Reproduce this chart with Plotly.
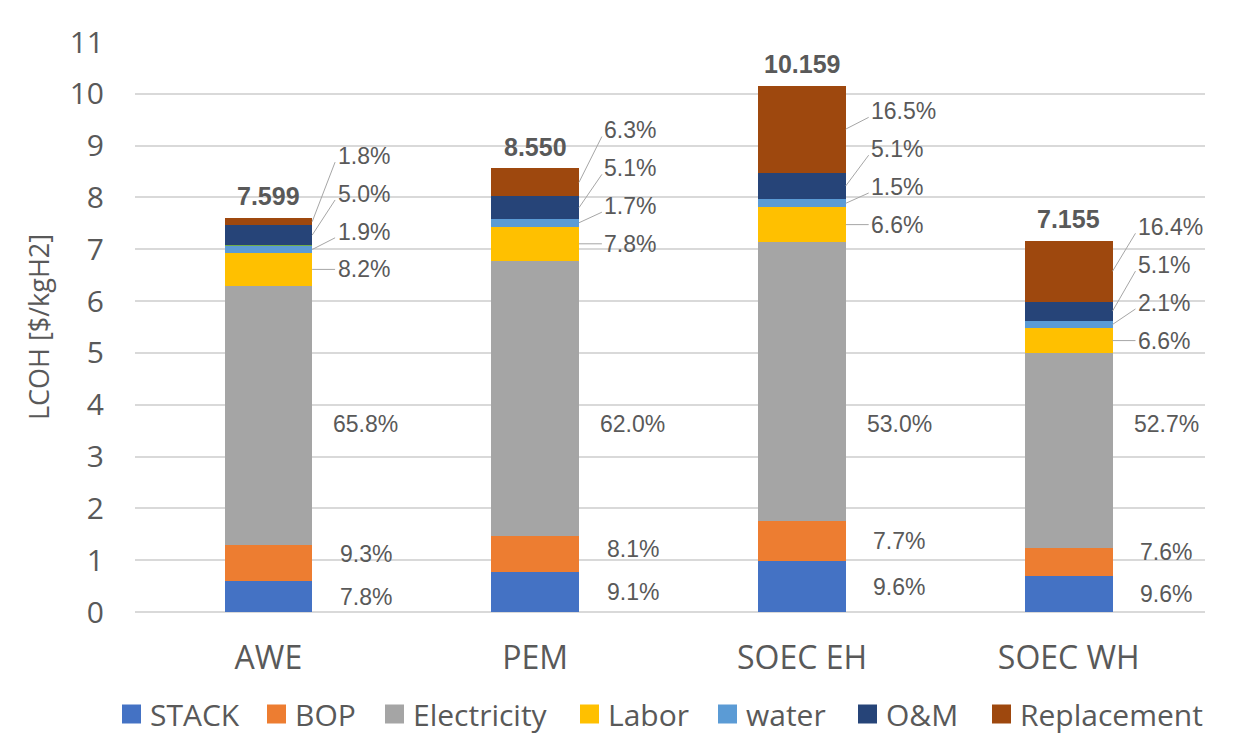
import plotly.graph_objects as go

categories = ["AWE", "PEM", "SOEC EH", "SOEC WH"]
totals = [7.599, 8.550, 10.159, 7.155]
total_labels = ["7.599", "8.550", "10.159", "7.155"]

series_names = ["STACK", "BOP", "Electricity", "Labor", "water", "other", "O&M", "Replacement"]
legend_names = ["STACK", "BOP", "Electricity", "Labor", "water", "O&M", "Replacement"]
stack = [0.593, 0.778, 0.975, 0.687]
bop = [0.707, 0.693, 0.782, 0.544]
electricity = [5.000, 5.301, 5.384, 3.771]
labor = [0.623, 0.667, 0.670, 0.472]
water = [0.144, 0.145, 0.152, 0.150]
other = [0.015, 0.0, 0.0, 0.0]
om = [0.380, 0.436, 0.518, 0.365]
replacement = [0.137, 0.539, 1.676, 1.173]

pct_stack = ["7.8%", "9.1%", "9.6%", "9.6%"]
pct_bop = ["9.3%", "8.1%", "7.7%", "7.6%"]
pct_electricity = ["65.8%", "62.0%", "53.0%", "52.7%"]
pct_labor = ["8.2%", "7.8%", "6.6%", "6.6%"]
pct_water = ["1.9%", "1.7%", "1.5%", "2.1%"]
pct_om = ["5.0%", "5.1%", "5.1%", "5.1%"]
pct_replacement = ["1.8%", "6.3%", "16.5%", "16.4%"]

colors = {
    "STACK": "#4472C4", "BOP": "#ED7D31", "Electricity": "#A5A5A5",
    "Labor": "#FFC000", "water": "#5B9BD5", "other": "#70AD47",
    "O&M": "#264478", "Replacement": "#9E480E",
}
values = {
    "STACK": stack, "BOP": bop, "Electricity": electricity, "Labor": labor,
    "water": water, "other": other, "O&M": om, "Replacement": replacement,
}

TXT = "#595959"
AX_FONT = "Open Sans, Noto Sans, sans-serif"
LBL_FONT = "Liberation Sans, Arial, sans-serif"

# page layout (the page body has an 8px margin)
W, H = 1241, 738
ML, MR, MT, MB = 127, 44, 34, 134
PW, PH = W - ML - MR, H - MT - MB

fig = go.Figure()
for name in series_names:
    fig.add_trace(go.Bar(
        name=name, x=categories, y=values[name],
        marker=dict(color=colors[name], line=dict(width=0)),
        showlegend=False, hoverinfo="skip",
    ))

HALF_BAR = 0.164
annotations = []
shapes = []
for i, cat in enumerate(categories):
    bounds = []
    base = 0.0
    for name in series_names:
        v = values[name][i]
        bounds.append((base, base + v))
        base += v
    b = dict(zip(series_names, bounds))
    mid = {k: (lo + hi) / 2 for k, (lo, hi) in b.items()}

    y_stack = mid["STACK"]
    y_bop = max(mid["BOP"], y_stack + 0.82)
    y_elec = 3.63
    for y, t in [(y_stack, pct_stack[i]), (y_bop, pct_bop[i]), (y_elec, pct_electricity[i])]:
        annotations.append(dict(x=i + 0.365, y=y, xref="x", yref="y", text=t, showarrow=False,
                                xanchor="center", yanchor="middle",
                                font=dict(family=LBL_FONT, size=23, color=TXT)))

    prev = None
    for name, t in [("Labor", pct_labor[i]), ("water", pct_water[i]),
                    ("O&M", pct_om[i]), ("Replacement", pct_replacement[i])]:
        y = mid[name] if prev is None else max(mid[name], prev + 0.73)
        prev = y
        annotations.append(dict(x=i + 0.252, y=y, xref="x", yref="y", text=t, showarrow=False,
                                xanchor="left", yanchor="middle",
                                font=dict(family=LBL_FONT, size=23, color=TXT)))
        shapes.append(dict(type="line", xref="x", yref="y",
                           x0=i + HALF_BAR, y0=mid[name], x1=i + 0.25,
                           y1=y - (0 if name == "Labor" else 0.12),
                           line=dict(color="#A6A6A6", width=1)))

    annotations.append(dict(x=i, y=totals[i], xref="x", yref="y", text="<b>" + total_labels[i] + "</b>",
                            showarrow=False, xanchor="center", yanchor="bottom", yshift=6,
                            font=dict(family=LBL_FONT, size=25, color=TXT)))

# legend row (Excel style: larger squares)
legend_left_px = [114, 259, 377, 572, 710, 850, 984]   # square left edges, relative to figure
SQ = 19
leg_center_px = 706                                     # vertical centre, relative to figure
for name, lx in zip(legend_names, legend_left_px):
    x0 = (lx - ML) / PW
    x1 = (lx + SQ - ML) / PW
    y0 = (MT + PH - (leg_center_px - SQ / 2)) / PH
    y1 = (MT + PH - (leg_center_px + SQ / 2)) / PH
    shapes.append(dict(type="rect", xref="paper", yref="paper", x0=x0, x1=x1, y0=y0, y1=y1,
                       fillcolor=colors[name], line=dict(width=0)))
    annotations.append(dict(x=(lx + SQ + 7 - ML) / PW, y=(MT + PH - leg_center_px) / PH,
                            xref="paper", yref="paper", text=name, showarrow=False,
                            xanchor="left", yanchor="middle",
                            font=dict(family=AX_FONT, size=30, color=TXT)))

fig.update_layout(
    barmode="stack",
    bargap=0.672,
    width=W, height=H,
    margin=dict(l=ML, r=MR, t=MT, b=MB, autoexpand=False),
    plot_bgcolor="white", paper_bgcolor="white",
    annotations=annotations, shapes=shapes,
    showlegend=False,
    yaxis=dict(
        range=[0, 11], dtick=1, showgrid=True, gridcolor="#D9D9D9", gridwidth=1.5,
        zeroline=True, zerolinecolor="#D9D9D9", zerolinewidth=1.5,
        tickfont=dict(family=AX_FONT, size=30, color=TXT), ticklabelstandoff=30,
        title=dict(text="LCOH [$/kgH2]", font=dict(family=AX_FONT, size=27, color=TXT), standoff=12),
        automargin=False,
    ),
    xaxis=dict(
        tickfont=dict(family=AX_FONT, size=32, color=TXT), ticklabelstandoff=24,
        showline=False, showgrid=False, automargin=False,
    ),
)

fig.write_html("out.html")
